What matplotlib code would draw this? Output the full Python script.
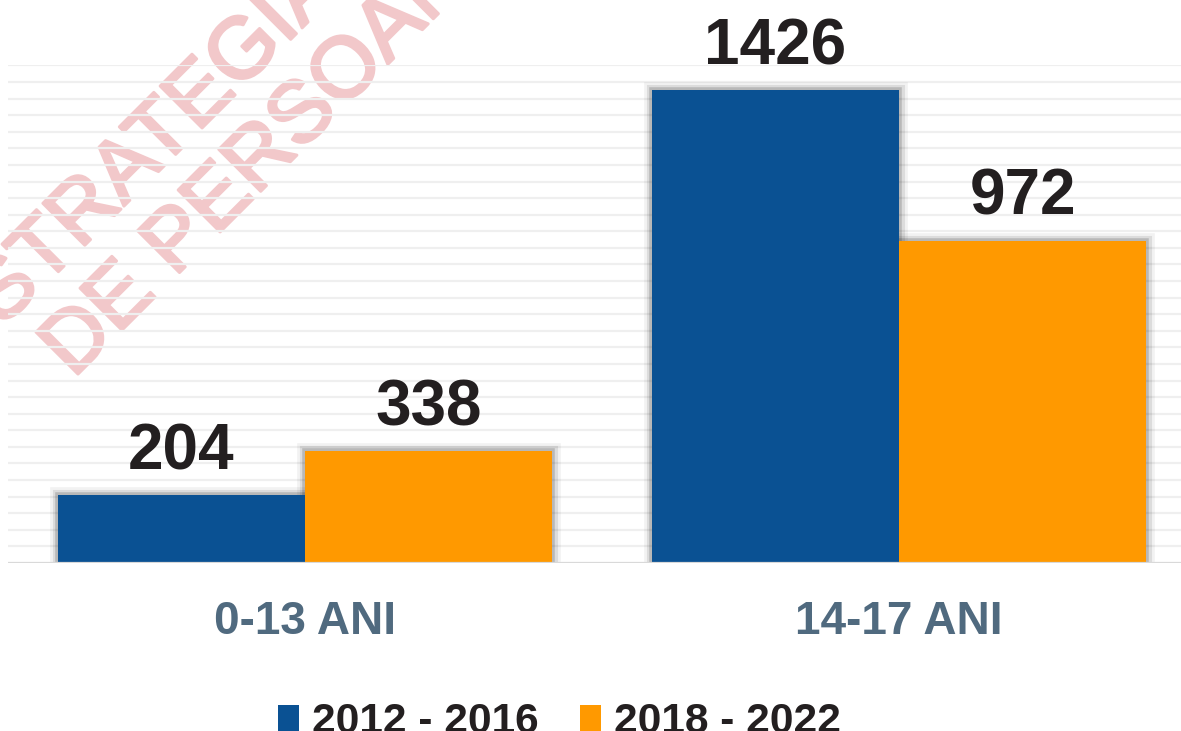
import numpy as np
import matplotlib
matplotlib.use('Agg')
import matplotlib.pyplot as plt
import matplotlib.patheffects as pe

plt.rcParams['font.family'] = ['Liberation Sans', 'DejaVu Sans']

# data
categories = ['0-13 ANI', '14-17 ANI']
series = ['2012 - 2016', '2018 - 2022']
values_a = [204, 1426]
values_b = [338, 972]
colors = ['#0a5193', '#ff9900']

W, H = 1181, 731
fig = plt.figure(figsize=(W / 100, H / 100), dpi=100)
ax = fig.add_axes([8 / W, (H - 563) / H, (W - 8) / W, 497.6 / H])

x = np.arange(len(categories))
w = 0.416

# soft shadow behind bars: stacked translucent edges
for lw, a in [(12, 0.05), (8, 0.09), (4, 0.16)]:
    for xs, vals in [(x - w / 2, values_a), (x + w / 2, values_b)]:
        ax.bar(xs, vals, w, facecolor='none', edgecolor=(0, 0, 0, a),
               linewidth=lw, zorder=1, joinstyle='miter')

bars_a = ax.bar(x - w / 2, values_a, w, color=colors[0], label=series[0], zorder=2)
bars_b = ax.bar(x + w / 2, values_b, w, color=colors[1], label=series[1], zorder=2)

for bars, vals in [(bars_a, values_a), (bars_b, values_b)]:
    for b, v in zip(bars, vals):
        ax.annotate(str(v), (b.get_x() + b.get_width() / 2, v),
                    xytext=(0, 18.5), textcoords='offset points',
                    ha='center', va='baseline', fontsize=46,
                    fontweight='bold', color='#231f20', annotation_clip=False)

for xi, lab in zip(x, categories):
    ax.annotate(lab, (xi, 0), xycoords=('data', 'axes fraction'),
                xytext=(0, -51), textcoords='offset points',
                ha='center', va='baseline', fontsize=33,
                fontweight='bold', color='#506a7f', annotation_clip=False)

ax.set_xlim(-0.5, 1.4747)
ax.set_ylim(0, 1500)
ax.set_yticks(np.arange(50, 1501, 50))
ax.yaxis.grid(True, color='#efefef', linewidth=1.6)
ax.set_axisbelow(True)
ax.axhline(0, color='#d9d9d9', linewidth=1.6, zorder=3)
ax.tick_params(left=False, bottom=False, labelleft=False, labelbottom=False)
for s in ax.spines.values():
    s.set_visible(False)

# watermark
wm_color = '#f2c8ca'
for txt, (px, py) in [('STRATEGIA', (2, 328)), ('DE PERSOANE', (73, 379))]:
    ax.text(px / W, 1 - py / H, txt, transform=fig.transFigure, rotation=45,
            rotation_mode='anchor', ha='left', va='baseline', fontsize=62,
            color=wm_color, zorder=0.1,
            path_effects=[pe.withStroke(linewidth=2.2, foreground=wm_color)])

ax.legend(loc='upper left', bbox_to_anchor=(278 / W, 1 - 702 / H),
          bbox_transform=fig.transFigure, ncol=2, frameon=False,
          prop={'weight': 'bold', 'size': 30.6}, handlelength=0.5,
          handleheight=0.55, handletextpad=0.3, columnspacing=0.97,
          borderpad=0, borderaxespad=0, labelcolor='#231f20')

fig.savefig('out.png', dpi=100)
